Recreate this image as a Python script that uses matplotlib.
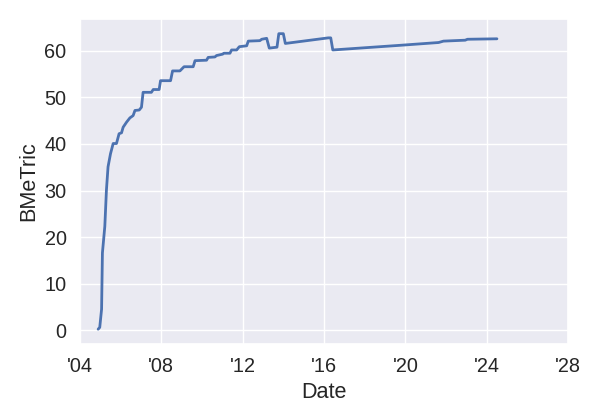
import pandas as pd
import matplotlib.pyplot as plt
import matplotlib.dates as mdates
import seaborn as sns

# Values
dates = [
    "2004-11-25", "2004-12-24", "2005-01-26", "2005-02-10", "2005-03-25",
    "2005-04-23", "2005-05-22", "2005-07-05", "2005-08-22", "2005-10-20",
    "2005-12-06", "2006-01-19", "2006-02-17", "2006-04-20", "2006-06-18",
    "2006-08-15", "2006-09-17", "2006-12-03", "2007-01-12", "2007-02-10",
    "2007-07-09", "2007-08-11", "2007-11-25", "2007-12-20", "2008-06-17",
    "2008-07-23", "2008-12-02", "2009-02-14", "2009-07-28", "2009-08-30",
    "2010-03-25", "2010-04-23", "2010-08-22", "2010-09-20", "2011-01-08",
    "2011-01-30", "2011-05-19", "2011-06-17", "2011-09-16", "2011-11-03",
    "2012-03-14", "2012-04-12", "2012-11-06", "2012-12-09", "2013-03-08",
    "2013-04-24", "2013-09-09", "2013-10-12", "2014-01-01", "2014-02-06",
    "2016-03-18", "2016-05-01", "2016-06-07", "2019-09-27", "2021-08-19",
    "2021-11-14", "2022-12-09", "2023-01-19", "2024-07-01",
]
values = [
    0.2, 0.6, 4.5, 16.6, 22.3,
    30.1, 35.1, 37.9, 40.1, 40.1,
    42.2, 42.4, 43.6, 44.7, 45.6,
    46.1, 47.2, 47.3, 47.9, 51.1,
    51.1, 51.7, 51.7, 53.6, 53.6,
    55.7, 55.7, 56.6, 56.6, 57.9,
    58.0, 58.6, 58.7, 59.0, 59.3,
    59.5, 59.5, 60.2, 60.2, 60.9,
    61.1, 62.1, 62.2, 62.5, 62.7,
    60.6, 60.8, 63.7, 63.7, 61.6,
    62.8, 62.8, 60.2, 61.2, 61.8,
    62.1, 62.3, 62.5, 62.6,
]

df = pd.DataFrame({"date": pd.to_datetime(dates), "value": values})

sns.set_theme(style="darkgrid", font_scale=1.3)
plt.rcParams["font.family"] = ["Liberation Sans", "DejaVu Sans"]

fig = plt.figure(figsize=(6, 4.2), dpi=100)
ax = fig.add_axes([0.133, 0.181, 0.814, 0.774])
ax.plot(df["date"], df["value"], linewidth=2)

ax.set_xlim(pd.Timestamp("2004-01-01"), pd.Timestamp("2028-01-01"))
ax.xaxis.set_major_locator(mdates.YearLocator(4))
ax.xaxis.set_major_formatter(mdates.DateFormatter("'%y"))

ax.set_xlabel("Date")
ax.set_ylabel("BMeTric")

fig.savefig("out.png")
plt.close(fig)
